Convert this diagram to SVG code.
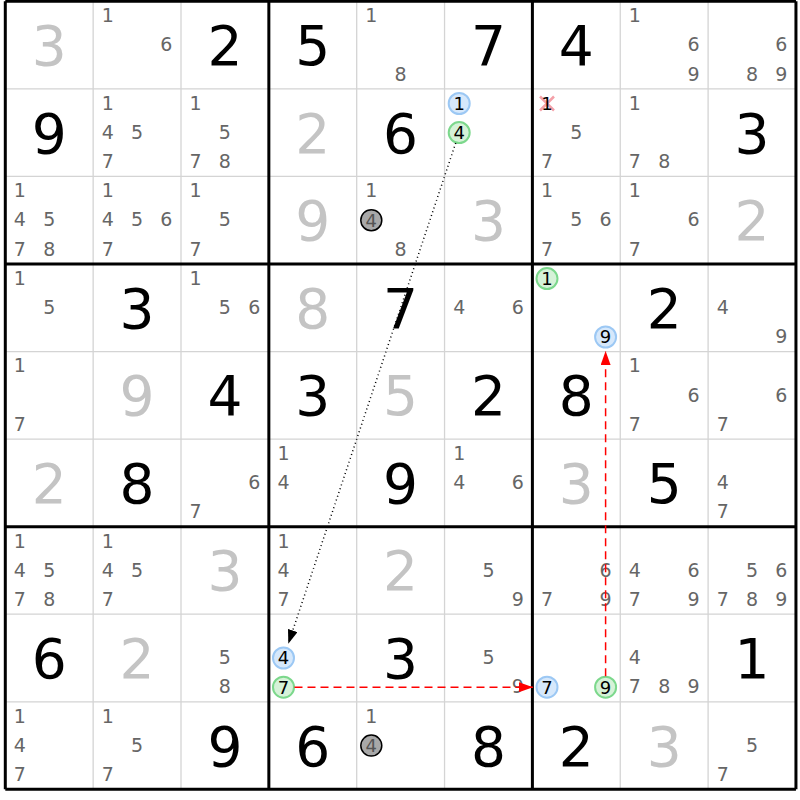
<svg xmlns="http://www.w3.org/2000/svg" width="800" height="800" viewBox="0 0 800 800">
<style>
text{font-family:"DejaVu Sans","Liberation Sans",sans-serif;text-anchor:middle}
.p{font-size:19px;fill:#666}
.g{font-size:55px;fill:#000}
.s{font-size:55px;fill:#c4c4c4}
.k{font-size:18px;fill:#000}
.gp{font-size:18px;fill:#555}
.thin{stroke:#d4d4d4;stroke-width:1.3}
.thick{stroke:#000;stroke-width:3}
.cb{fill:#d6e8fb;stroke:#9cc8f4;stroke-width:2}
.cg{fill:#d6f2d8;stroke:#7cd88c;stroke-width:2}
.cy{fill:#a8a8a8;stroke:#000;stroke-width:1.5}
.xm{stroke:#f4a0a8;stroke-width:2.5}
.dot{stroke:#000;stroke-width:1.5;stroke-dasharray:1,3;fill:none}
.red{stroke:#ff0000;stroke-width:1.5;stroke-dasharray:8,5;fill:none}
</style>
<defs>
<marker id="ab" markerUnits="userSpaceOnUse" markerWidth="14" markerHeight="10" refX="14" refY="5" orient="auto"><path d="M0,0 L14,5 L0,10 z" fill="#000"/></marker>
<marker id="ar" markerUnits="userSpaceOnUse" markerWidth="14" markerHeight="10" refX="14" refY="5" orient="auto"><path d="M0,0 L14,5 L0,10 z" fill="#ff0000"/></marker>
</defs>
<rect x="0" y="0" width="800" height="800" fill="#fff"/>
<g id="grid">
<path class="thin" d="M93.15,1.3V789.34M181,1.3V789.34M356.7,1.3V789.34M444.55,1.3V789.34M620.25,1.3V789.34M708.1,1.3V789.34M5.3,88.86H795.95M5.3,176.42H795.95M5.3,351.54H795.95M5.3,439.1H795.95M5.3,614.22H795.95M5.3,701.78H795.95"/>
<path class="thick" d="M5.3,1.3V789.34M268.85,1.3V789.34M532.4,1.3V789.34M795.95,1.3V789.34M5.3,1.3H795.95M5.3,263.98H795.95M5.3,526.66H795.95M5.3,789.34H795.95"/>
</g>
<!-- row 1 -->
<g id="r1c1"><text class="s" x="49.2" y="65.1">3</text></g>
<g id="r1c2"><text class="p" x="107.8" y="22.1">1</text><text class="p" x="166.4" y="51.3">6</text></g>
<g id="r1c3"><text class="g" x="224.9" y="65.1">2</text></g>
<g id="r1c4"><text class="g" x="312.8" y="65.1">5</text></g>
<g id="r1c5"><text class="p" x="371.3" y="22.1">1</text><text class="p" x="400.6" y="80.5">8</text></g>
<g id="r1c6"><text class="g" x="488.5" y="65.1">7</text></g>
<g id="r1c7"><text class="g" x="576.3" y="65.1">4</text></g>
<g id="r1c8"><text class="p" x="634.9" y="22.1">1</text><text class="p" x="693.5" y="51.3">6</text><text class="p" x="693.5" y="80.5">9</text></g>
<g id="r1c9"><text class="p" x="781.3" y="51.3">6</text><text class="p" x="752" y="80.5">8</text><text class="p" x="781.3" y="80.5">9</text></g>
<!-- row 2 -->
<g id="r2c1"><text class="g" x="49.2" y="152.6">9</text></g>
<g id="r2c2"><text class="p" x="107.8" y="109.7">1</text><text class="p" x="107.8" y="138.8">4</text><text class="p" x="137.1" y="138.8">5</text><text class="p" x="107.8" y="168">7</text></g>
<g id="r2c3"><text class="p" x="195.6" y="109.7">1</text><text class="p" x="224.9" y="138.8">5</text><text class="p" x="195.6" y="168">7</text><text class="p" x="224.9" y="168">8</text></g>
<g id="r2c4"><text class="s" x="312.8" y="152.6">2</text></g>
<g id="r2c5"><text class="g" x="400.6" y="152.6">6</text></g>
<g id="r2c6"><circle class="cb" cx="459.2" cy="103.5" r="10.5"/><text class="k" x="459.2" y="109.9">1</text><circle class="cg" cx="459.2" cy="132.6" r="10.5"/><text class="k" x="459.2" y="139">4</text></g>
<g id="r2c7"><path class="xm" d="M540,96.5L554,110.5M554,96.5L540,110.5"/><text class="k" x="547" y="109.9">1</text><text class="p" x="576.3" y="138.8">5</text><text class="p" x="547" y="168">7</text></g>
<g id="r2c8"><text class="p" x="634.9" y="109.7">1</text><text class="p" x="634.9" y="168">7</text><text class="p" x="664.2" y="168">8</text></g>
<g id="r2c9"><text class="g" x="752" y="152.6">3</text></g>
<!-- row 3 -->
<g id="r3c1"><text class="p" x="19.9" y="197.2">1</text><text class="p" x="19.9" y="226.4">4</text><text class="p" x="49.2" y="226.4">5</text><text class="p" x="19.9" y="255.6">7</text><text class="p" x="49.2" y="255.6">8</text></g>
<g id="r3c2"><text class="p" x="107.8" y="197.2">1</text><text class="p" x="107.8" y="226.4">4</text><text class="p" x="137.1" y="226.4">5</text><text class="p" x="166.4" y="226.4">6</text><text class="p" x="107.8" y="255.6">7</text></g>
<g id="r3c3"><text class="p" x="195.6" y="197.2">1</text><text class="p" x="224.9" y="226.4">5</text><text class="p" x="195.6" y="255.6">7</text></g>
<g id="r3c4"><text class="s" x="312.8" y="240.2">9</text></g>
<g id="r3c5"><text class="p" x="371.3" y="197.2">1</text><circle class="cy" cx="371.3" cy="220.2" r="10.5"/><text class="gp" x="371.3" y="226.6">4</text><text class="p" x="400.6" y="255.6">8</text></g>
<g id="r3c6"><text class="s" x="488.5" y="240.2">3</text></g>
<g id="r3c7"><text class="p" x="547" y="197.2">1</text><text class="p" x="576.3" y="226.4">5</text><text class="p" x="605.6" y="226.4">6</text><text class="p" x="547" y="255.6">7</text></g>
<g id="r3c8"><text class="p" x="634.9" y="197.2">1</text><text class="p" x="693.5" y="226.4">6</text><text class="p" x="634.9" y="255.6">7</text></g>
<g id="r3c9"><text class="s" x="752" y="240.2">2</text></g>
<!-- row 4 -->
<g id="r4c1"><text class="p" x="19.9" y="284.8">1</text><text class="p" x="49.2" y="314">5</text></g>
<g id="r4c2"><text class="g" x="137.1" y="327.8">3</text></g>
<g id="r4c3"><text class="p" x="195.6" y="284.8">1</text><text class="p" x="224.9" y="314">5</text><text class="p" x="254.2" y="314">6</text></g>
<g id="r4c4"><text class="s" x="312.8" y="327.8">8</text></g>
<g id="r4c5"><text class="g" x="400.6" y="327.8">7</text></g>
<g id="r4c6"><text class="p" x="459.2" y="314">4</text><text class="p" x="517.8" y="314">6</text></g>
<g id="r4c7"><circle class="cg" cx="547" cy="278.6" r="10.5"/><text class="k" x="547" y="285">1</text><circle class="cb" cx="605.6" cy="337" r="10.5"/><text class="k" x="605.6" y="343.4">9</text></g>
<g id="r4c8"><text class="g" x="664.2" y="327.8">2</text></g>
<g id="r4c9"><text class="p" x="722.7" y="314">4</text><text class="p" x="781.3" y="343.2">9</text></g>
<!-- row 5 -->
<g id="r5c1"><text class="p" x="19.9" y="372.3">1</text><text class="p" x="19.9" y="430.7">7</text></g>
<g id="r5c2"><text class="s" x="137.1" y="415.3">9</text></g>
<g id="r5c3"><text class="g" x="224.9" y="415.3">4</text></g>
<g id="r5c4"><text class="g" x="312.8" y="415.3">3</text></g>
<g id="r5c5"><text class="s" x="400.6" y="415.3">5</text></g>
<g id="r5c6"><text class="g" x="488.5" y="415.3">2</text></g>
<g id="r5c7"><text class="g" x="576.3" y="415.3">8</text></g>
<g id="r5c8"><text class="p" x="634.9" y="372.3">1</text><text class="p" x="693.5" y="401.5">6</text><text class="p" x="634.9" y="430.7">7</text></g>
<g id="r5c9"><text class="p" x="781.3" y="401.5">6</text><text class="p" x="722.7" y="430.7">7</text></g>
<!-- row 6 -->
<g id="r6c1"><text class="s" x="49.2" y="502.9">2</text></g>
<g id="r6c2"><text class="g" x="137.1" y="502.9">8</text></g>
<g id="r6c3"><text class="p" x="254.2" y="489.1">6</text><text class="p" x="195.6" y="518.3">7</text></g>
<g id="r6c4"><text class="p" x="283.5" y="459.9">1</text><text class="p" x="283.5" y="489.1">4</text></g>
<g id="r6c5"><text class="g" x="400.6" y="502.9">9</text></g>
<g id="r6c6"><text class="p" x="459.2" y="459.9">1</text><text class="p" x="459.2" y="489.1">4</text><text class="p" x="517.8" y="489.1">6</text></g>
<g id="r6c7"><text class="s" x="576.3" y="502.9">3</text></g>
<g id="r6c8"><text class="g" x="664.2" y="502.9">5</text></g>
<g id="r6c9"><text class="p" x="722.7" y="489.1">4</text><text class="p" x="722.7" y="518.3">7</text></g>
<!-- row 7 -->
<g id="r7c1"><text class="p" x="19.9" y="547.5">1</text><text class="p" x="19.9" y="576.6">4</text><text class="p" x="49.2" y="576.6">5</text><text class="p" x="19.9" y="605.8">7</text><text class="p" x="49.2" y="605.8">8</text></g>
<g id="r7c2"><text class="p" x="107.8" y="547.5">1</text><text class="p" x="107.8" y="576.6">4</text><text class="p" x="137.1" y="576.6">5</text><text class="p" x="107.8" y="605.8">7</text></g>
<g id="r7c3"><text class="s" x="224.9" y="590.4">3</text></g>
<g id="r7c4"><text class="p" x="283.5" y="547.5">1</text><text class="p" x="283.5" y="576.6">4</text><text class="p" x="283.5" y="605.8">7</text></g>
<g id="r7c5"><text class="s" x="400.6" y="590.4">2</text></g>
<g id="r7c6"><text class="p" x="488.5" y="576.6">5</text><text class="p" x="517.8" y="605.8">9</text></g>
<g id="r7c7"><text class="p" x="605.6" y="576.6">6</text><text class="p" x="547" y="605.8">7</text><text class="p" x="605.6" y="605.8">9</text></g>
<g id="r7c8"><text class="p" x="634.9" y="576.6">4</text><text class="p" x="693.5" y="576.6">6</text><text class="p" x="634.9" y="605.8">7</text><text class="p" x="693.5" y="605.8">9</text></g>
<g id="r7c9"><text class="p" x="752" y="576.6">5</text><text class="p" x="781.3" y="576.6">6</text><text class="p" x="722.7" y="605.8">7</text><text class="p" x="752" y="605.8">8</text><text class="p" x="781.3" y="605.8">9</text></g>
<!-- row 8 -->
<g id="r8c1"><text class="g" x="49.2" y="678">6</text></g>
<g id="r8c2"><text class="s" x="137.1" y="678">2</text></g>
<g id="r8c3"><text class="p" x="224.9" y="664.2">5</text><text class="p" x="224.9" y="693.4">8</text></g>
<g id="r8c4"><circle class="cb" cx="283.5" cy="658" r="10.5"/><text class="k" x="283.5" y="664.4">4</text><circle class="cg" cx="283.5" cy="687.2" r="10.5"/><text class="k" x="283.5" y="693.6">7</text></g>
<g id="r8c5"><text class="g" x="400.6" y="678">3</text></g>
<g id="r8c6"><text class="p" x="488.5" y="664.2">5</text><text class="p" x="517.8" y="693.4">9</text></g>
<g id="r8c7"><circle class="cb" cx="547" cy="687.2" r="10.5"/><text class="k" x="547" y="693.6">7</text><circle class="cg" cx="605.6" cy="687.2" r="10.5"/><text class="k" x="605.6" y="693.6">9</text></g>
<g id="r8c8"><text class="p" x="634.9" y="664.2">4</text><text class="p" x="634.9" y="693.4">7</text><text class="p" x="664.2" y="693.4">8</text><text class="p" x="693.5" y="693.4">9</text></g>
<g id="r8c9"><text class="g" x="752" y="678">1</text></g>
<!-- row 9 -->
<g id="r9c1"><text class="p" x="19.9" y="722.6">1</text><text class="p" x="19.9" y="751.8">4</text><text class="p" x="19.9" y="781">7</text></g>
<g id="r9c2"><text class="p" x="107.8" y="722.6">1</text><text class="p" x="137.1" y="751.8">5</text><text class="p" x="107.8" y="781">7</text></g>
<g id="r9c3"><text class="g" x="224.9" y="765.6">9</text></g>
<g id="r9c4"><text class="g" x="312.8" y="765.6">6</text></g>
<g id="r9c5"><text class="p" x="371.3" y="722.6">1</text><circle class="cy" cx="371.3" cy="745.6" r="10.5"/><text class="gp" x="371.3" y="752">4</text></g>
<g id="r9c6"><text class="g" x="488.5" y="765.6">8</text></g>
<g id="r9c7"><text class="g" x="576.3" y="765.6">2</text></g>
<g id="r9c8"><text class="s" x="664.2" y="765.6">3</text></g>
<g id="r9c9"><text class="p" x="752" y="751.8">5</text><text class="p" x="722.7" y="781">7</text></g>
<g id="connectors">
<line class="dot" x1="455.7" y1="143" x2="288.3" y2="643.8" marker-end="url(#ab)"/>
<line class="red" x1="294.5" y1="687.2" x2="533" y2="687.2" marker-end="url(#ar)"/>
<line class="red" x1="605.6" y1="676.2" x2="605.6" y2="351" marker-end="url(#ar)"/>
</g>
</svg>
